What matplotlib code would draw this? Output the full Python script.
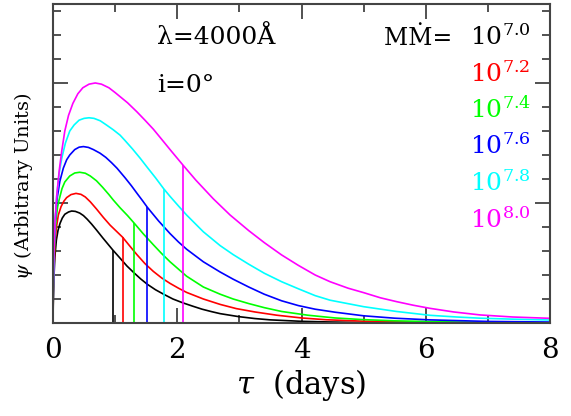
import numpy as np
import matplotlib
matplotlib.use("Agg")
import matplotlib.pyplot as plt
from matplotlib.ticker import MultipleLocator

plt.rcParams['font.family'] = ['DejaVu Serif']
plt.rcParams['mathtext.fontset'] = 'dejavuserif'

# transfer functions psi(tau), one per accretion rate
tau_70 = [0, 0.005, 0.015, 0.03, 0.054, 0.08, 0.113, 0.15, 0.19, 0.25, 0.30, 0.36, 0.43, 0.49,
          0.55, 0.62, 0.70, 0.80, 0.88, 0.96, 1.08, 1.19, 1.30, 1.41, 1.52, 1.65, 1.78, 1.93,
          2.09, 2.25, 2.40, 2.55, 2.69, 2.99, 3.25, 3.5, 4.0, 4.5, 5.0, 6.0, 8.0]
psi_70 = [0, 0.2, 0.38, 0.55, 0.69, 0.77, 0.83, 0.875, 0.906, 0.925, 0.933, 0.93, 0.916, 0.895,
          0.865, 0.825, 0.775, 0.71, 0.66, 0.61, 0.54, 0.475, 0.42, 0.368, 0.322, 0.277, 0.24, 0.20,
          0.168, 0.14, 0.115, 0.095, 0.078, 0.053, 0.037, 0.026, 0.014, 0.008, 0.004, 0.001, 0.0]

tau_72 = [0, 0.005, 0.015, 0.03, 0.05, 0.086, 0.13, 0.175, 0.22, 0.29, 0.37, 0.45, 0.52, 0.60,
          0.70, 0.81, 0.92, 1.03, 1.12, 1.23, 1.35, 1.48, 1.615, 1.75, 1.884, 2.02, 2.15, 2.42,
          2.69, 2.95, 3.25, 3.6, 4.0, 4.4, 5.0, 6.0, 7.0, 8.0]
psi_72 = [0, 0.25, 0.45, 0.64, 0.78, 0.9, 0.97, 1.015, 1.045, 1.07, 1.08, 1.072, 1.05, 1.01,
          0.95, 0.88, 0.815, 0.76, 0.715, 0.645, 0.57, 0.495, 0.43, 0.375, 0.33, 0.29, 0.255, 0.20,
          0.155, 0.12, 0.092, 0.065, 0.042, 0.027, 0.015, 0.006, 0.002, 0.0]

tau_74 = [0, 0.005, 0.015, 0.03, 0.05, 0.075, 0.10, 0.145, 0.19, 0.27, 0.35, 0.43, 0.52, 0.60,
          0.70, 0.80, 0.90, 0.97, 1.08, 1.20, 1.31, 1.45, 1.615, 1.75, 1.884, 2.15, 2.42, 2.69,
          2.9, 3.15, 3.4, 3.68, 4.1, 4.54, 5.0, 5.5, 6.5, 8.0]
psi_74 = [0, 0.28, 0.5, 0.72, 0.87, 0.97, 1.03, 1.12, 1.175, 1.225, 1.25, 1.256, 1.248, 1.225,
          1.185, 1.13, 1.07, 1.025, 0.96, 0.895, 0.83, 0.745, 0.652, 0.578, 0.51, 0.39, 0.30, 0.24,
          0.20, 0.162, 0.128, 0.096, 0.065, 0.042, 0.028, 0.018, 0.008, 0.002]

tau_76 = [0, 0.005, 0.015, 0.03, 0.05, 0.07, 0.11, 0.166, 0.22, 0.27, 0.35, 0.42, 0.49, 0.57,
          0.65, 0.757, 0.85, 0.94, 1.03, 1.16, 1.26, 1.36, 1.44, 1.52, 1.70, 1.884, 2.02, 2.15,
          2.42, 2.69, 2.9, 3.15, 3.4, 3.68, 3.95, 4.22, 4.54, 5.0, 5.5, 6.07, 7.0, 8.0]
psi_76 = [0, 0.3, 0.55, 0.8, 0.96, 1.05, 1.18, 1.29, 1.36, 1.40, 1.445, 1.465, 1.47, 1.463,
          1.445, 1.415, 1.38, 1.337, 1.29, 1.21, 1.145, 1.075, 1.02, 0.963, 0.85, 0.745, 0.675,
          0.615, 0.51, 0.425, 0.365, 0.30, 0.24, 0.185, 0.145, 0.115, 0.09, 0.06, 0.04, 0.026,
          0.013, 0.008]

tau_78 = [0, 0.005, 0.015, 0.03, 0.06, 0.10, 0.14, 0.20, 0.27, 0.34, 0.42, 0.50, 0.58, 0.66,
          0.76, 0.86, 0.97, 1.08, 1.16, 1.28, 1.40, 1.52, 1.65, 1.78, 1.884, 2.02, 2.15, 2.42,
          2.69, 2.9, 3.15, 3.4, 3.68, 3.95, 4.22, 4.46, 5.0, 5.53, 6.07, 6.5, 6.88, 7.4, 8.0]
psi_78 = [0, 0.3, 0.58, 0.82, 1.06, 1.25, 1.37, 1.5, 1.6, 1.65, 1.69, 1.705, 1.71, 1.705,
          1.685, 1.65, 1.61, 1.565, 1.52, 1.45, 1.375, 1.295, 1.21, 1.12, 1.055, 0.975, 0.90, 0.76,
          0.645, 0.57, 0.49, 0.415, 0.344, 0.285, 0.228, 0.19, 0.136, 0.096, 0.064, 0.05, 0.04,
          0.032, 0.025]

tau_80 = [0, 0.005, 0.015, 0.03, 0.06, 0.10, 0.14, 0.19, 0.25, 0.32, 0.40, 0.48, 0.58, 0.68,
          0.78, 0.90, 1.00, 1.08, 1.20, 1.35, 1.48, 1.615, 1.75, 1.90, 2.09, 2.30, 2.58, 2.85,
          3.15, 3.40, 3.68, 3.95, 4.22, 4.46, 4.75, 5.0, 5.27, 5.53, 5.8, 6.07, 6.45, 6.88,
          7.4, 8.0]
psi_80 = [0, 0.3, 0.58, 0.82, 1.06, 1.27, 1.43, 1.6, 1.73, 1.83, 1.91, 1.96, 1.99, 2.0,
          1.99, 1.96, 1.92, 1.886, 1.835, 1.76, 1.69, 1.615, 1.53, 1.435, 1.317, 1.19, 1.035,
          0.90, 0.77, 0.67, 0.567, 0.48, 0.40, 0.344, 0.29, 0.253, 0.21, 0.178, 0.148, 0.122,
          0.092, 0.067, 0.05, 0.039]

# centroid markers (tau, height on curve)
cent_tau = [0.96, 1.12, 1.31, 1.52, 1.78, 2.09]
cent_psi = [0.61, 0.715, 0.83, 0.963, 1.12, 1.317]

labels = ['7.0', '7.2', '7.4', '7.6', '7.8', '8.0']
colors = ['black', '#ff0000', '#00ff00', '#0000ff', '#00ffff', '#ff00ff']
taus = [tau_70, tau_72, tau_74, tau_76, tau_78, tau_80]
psis = [psi_70, psi_72, psi_74, psi_76, psi_78, psi_80]

fig = plt.figure(figsize=(5.71, 4.16), dpi=100)
ax = fig.add_axes([53/571, 93/416, 497/571, 319/416])

for t, p, c, tc, pc in zip(taus, psis, colors, cent_tau, cent_psi):
    ax.plot(t, p, color=c, lw=1.2)
    ax.vlines(tc, 0, pc, color=c, lw=1.2)

ax.set_xlim(0, 8)
ax.set_ylim(0, 2.658)

ax.xaxis.set_major_locator(MultipleLocator(2))
ax.xaxis.set_minor_locator(MultipleLocator(1))
ax.yaxis.set_major_locator(MultipleLocator(1))
ax.yaxis.set_minor_locator(MultipleLocator(0.2))
ax.tick_params(which='both', direction='in', top=True, right=True, color='#222222', width=1.1)
ax.tick_params(which='major', length=11, pad=10, labelsize=20)
ax.tick_params(which='minor', length=6)
ax.tick_params(axis='y', labelleft=False)
for s in ax.spines.values():
    s.set_color('#444444')
    s.set_linewidth(1.5)

ax.set_xlabel(r'$\tau$  (days)', fontsize=22, labelpad=2)
fig.text(24/571, 1 - 186/416, r'$\psi$ (Arbitrary Units)', rotation=90, fontsize=14,
         ha='center', va='center')

ax.text(216/571, 1 - 38/416, 'λ=4000Å', transform=fig.transFigure, fontsize=18,
        ha='center', va='center')
ax.text(157/571, 1 - 86/416, 'i=0°', transform=fig.transFigure, fontsize=18,
        ha='left', va='center')
ax.text(460/571, 1 - 45/416, 'MṀ= ', transform=fig.transFigure, fontsize=17,
        ha='right', va='baseline')
for k, (lab, c) in enumerate(zip(labels, colors)):
    ax.text(470/571, 1 - (45 + 36.5*k)/416, r'$10^{%s}$' % lab, transform=fig.transFigure,
            fontsize=18, color=c, ha='left', va='baseline')

fig.savefig('out.png', dpi=100)
